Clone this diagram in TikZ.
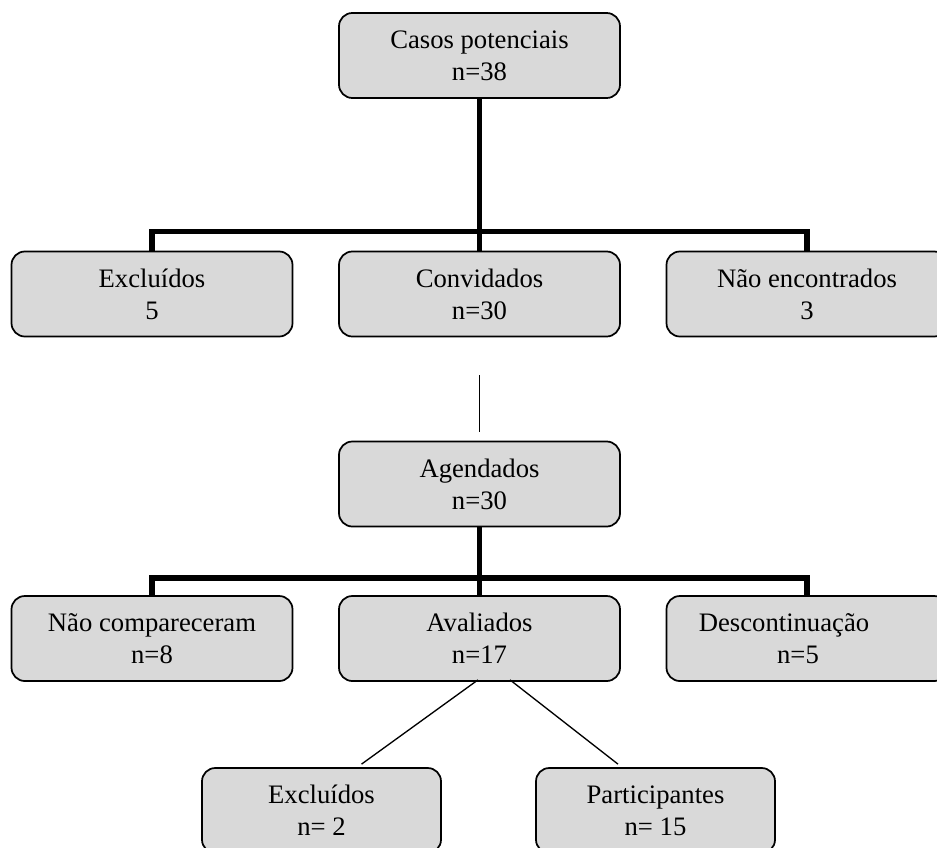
\documentclass[tikz,border=0pt]{standalone}
\usepackage{fontspec}
\setmainfont{Liberation Serif}
\definecolor{boxfill}{RGB}{217,217,217}
\tikzset{every picture/.style={line width=0.75pt}}
\tikzset{
  flowbox/.style={draw, line width=1.3pt, fill=boxfill, rounded corners=10pt,
    minimum width=210.75pt, minimum height=63.75pt, inner sep=0pt,
    align=center, font=\fontsize{20}{24}\selectfont},
  smallbox/.style={flowbox, minimum width=179.25pt},
  trunk/.style={line width=4pt},
  twig/.style={line width=1pt}
}

\begin{document}
\begin{tikzpicture}[x=0.75pt,y=0.75pt,yscale=-1,xscale=1]
\useasboundingbox (0,0) rectangle (937,847);

% Text Node
\node[flowbox] (casos) at (479.5,55.5) {Casos potenciais\\n=38};
% Text Node
\node[flowbox] (excl) at (152,294) {Excluídos\\5};
% Text Node
\node[flowbox] (conv) at (479.5,294) {Convidados\\n=30};
% Text Node
\node[flowbox] (naoenc) at (807,294) {Não encontrados\\3};
% Text Node
\node[flowbox] (agend) at (479.5,484) {Agendados\\n=30};
% Text Node
\node[flowbox] (naocomp) at (152,638.5) {Não compareceram\\n=8};
% Text Node
\node[flowbox] (aval) at (479.5,638.5) {Avaliados\\n=17};
% Text Node
\node[flowbox] (descont) at (807,638.5) {Descontinuação\hspace*{34.5pt}\\n=5\hspace*{13.5pt}};
% Text Node
\node[smallbox] (exclb) at (321.5,810.5) {Excluídos\\n= 2};
% Text Node
\node[smallbox] (partic) at (655.5,810.5) {Participantes\\n= 15};

% Connection
\draw[trunk] (casos.south) -- (conv.north);
\draw[trunk] (excl.north) -- ++(0,-19) -| (naoenc.north);
% Connection
\draw[twig, shorten <=28.5pt, shorten >=6.75pt] (conv.south) -- (agend.north);
% Connection
\draw[trunk] (agend.south) -- (aval.north);
\draw[trunk] (naocomp.north) -- ++(0,-17) -| (descont.north);
% Connection
\draw[twig] ([shift={(-1.5,-2)}]aval.south) -- ([shift={(40,-3)}]exclb.north);
\draw[twig] ([shift={(30.5,-2)}]aval.south) -- ([shift={(-37.5,-3)}]partic.north);

\end{tikzpicture}
\end{document}
